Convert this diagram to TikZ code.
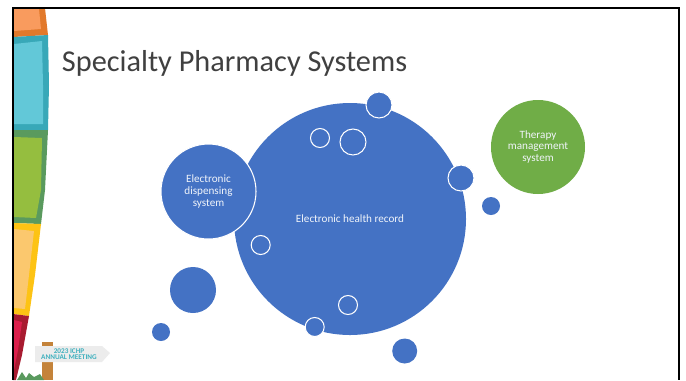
\documentclass[tikz,border=0pt]{standalone}
\usepackage{fontspec}
\setmainfont{Carlito}
\usepackage{xcolor}
\usetikzlibrary{positioning}
\definecolor{bubble}{HTML}{4472C4}
\definecolor{therapy}{HTML}{70AD47}
\definecolor{orangedark}{HTML}{E2792B}
\definecolor{orangelight}{HTML}{F99B5E}
\definecolor{tealdark}{HTML}{38A8B8}
\definecolor{teallight}{HTML}{62C8D8}
\definecolor{greendark}{HTML}{5A9A5E}
\definecolor{greenlight}{HTML}{95BE3F}
\definecolor{yellowdark}{HTML}{FDC314}
\definecolor{yellowlight}{HTML}{FBC86E}
\definecolor{reddark}{HTML}{A81B30}
\definecolor{redlight}{HTML}{DB1F4C}
\definecolor{signpost}{HTML}{C4833A}
\definecolor{signtext}{HTML}{3FB0BE}
\tikzset{
bubblefill/.style={circle,fill=bubble,inner sep=0pt},
ringed/.style={bubblefill,draw=white,line width=0.6pt},
ring/.style={circle,draw=white,line width=0.6pt,inner sep=0pt},
label/.style={text=white!92!bubble,font=\fontsize{6.35}{6.8}\selectfont,align=center}
}
\begin{document}
\begin{tikzpicture}[x=0.02cm,y=-0.02cm]
\useasboundingbox (0,0) rectangle (686,380);
\fill[white] (0,0) rectangle (686,380);
% banner
\fill[orangedark] (13,8)--(45,8)--(48,35)--(13,37)--cycle;
\fill[orangelight] (14,9)--(39,9)--(41,29)--(14,31)--cycle;
\fill[tealdark] (13,37)--(48,35)--(49,85)--(48,130)--(13,130)--cycle;
\fill[teallight] (14,44)--(42,41)--(43,85)--(43,124)--(14,124)--cycle;
\fill[greendark] (13,130)--(48,130)--(45,190)--(41,224)--(13,223)--cycle;
\fill[greenlight] (14,137)--(42,138)--(41,190)--(36,218)--(14,217)--cycle;
\fill[yellowdark] (13,223)--(41,224)--(35,275)--(29,316)--(13,314)--cycle;
\fill[yellowlight] (14,229)--(34,231)--(29,275)--(25,309)--(14,308)--cycle;
\fill[reddark] (13,314)--(29,316)--(22,355)--(16,380)--(13,380)--cycle;
\fill[redlight] (14,320)--(22,322)--(18,350)--(14,370)--cycle;
% frame
\draw[line width=1.5pt] (13,380)--(13,8)--(679,8)--(679,380);
% sign
\fill[signpost] (42,342) rectangle (53,380);
\fill[greendark] (17,380)--(22,372)--(26,378)--(29,373)--(34,377)--(40,374)--(44,380)--cycle;
\fill[gray!15] (35,346)--(102,346)--(110,353)--(102,362)--(35,362)--cycle;
\node[text=signtext,font=\fontsize{4.1}{3.6}\selectfont\bfseries,align=center,inner sep=0pt] (sign) at (69,354) {2023 ICHP\\ANNUAL MEETING};
% title
\node[text=black!75,font=\fontsize{17.25}{20}\selectfont,inner sep=0pt] (title) at (234.5,63) {Specialty Pharmacy Systems};
% bubbles
\node[bubblefill,minimum size=232*0.02cm] (ehr) at (350,219) {};
\node[label] (ehrtext) at (ehr) {Electronic health record};
\node[ringed,minimum size=95*0.02cm,label] (dispensing) at (208.5,191.5) {Electronic\\dispensing\\system};
\node[circle,fill=therapy,inner sep=0pt,minimum size=94*0.02cm,label] (therapynode) at (538,147) {Therapy\\management\\system};
\node[ringed,minimum size=26*0.02cm] (topdot) at (379,105) {};
\node[ringed,minimum size=26*0.02cm] (rightdot) at (461,178) {};
\node[bubblefill,minimum size=18*0.02cm] (rightsmall) at (491,206) {};
\node[ring,minimum size=19*0.02cm] (ringa) at (320,138) {};
\node[ring,minimum size=26*0.02cm] (ringb) at (353,142) {};
\node[ring,minimum size=19*0.02cm] (ringc) at (260.7,245) {};
\node[ring,minimum size=19*0.02cm] (ringd) at (348,305) {};
\node[ringed,minimum size=19*0.02cm] (bottomdot) at (314.7,327) {};
\node[bubblefill,minimum size=46*0.02cm] (leftbig) at (193,290) {};
\node[bubblefill,minimum size=18*0.02cm] (leftsmall) at (161,332) {};
\node[bubblefill,minimum size=25*0.02cm] (bottomright) at (404.7,351) {};
\end{tikzpicture}
\end{document}
